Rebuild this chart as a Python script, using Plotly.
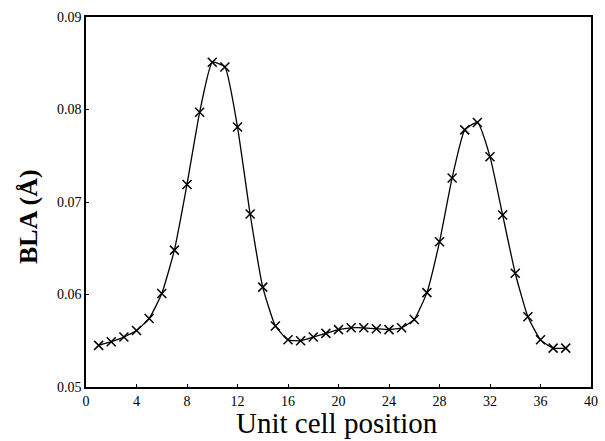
import plotly.graph_objects as go

positions = list(range(1, 39))
bla = [0.0545, 0.0549, 0.0554, 0.0561, 0.0574, 0.0601, 0.0648, 0.0719, 0.0797, 0.0851,
       0.0846, 0.0781, 0.0687, 0.0608, 0.0566, 0.0551, 0.0550, 0.0554, 0.0558, 0.0562,
       0.0564, 0.0564, 0.0563, 0.0562, 0.0564, 0.0573, 0.0602, 0.0657, 0.0726, 0.0778,
       0.0786, 0.0749, 0.0686, 0.0623, 0.0576, 0.0551, 0.0542, 0.0542]
x_ticks = [0, 4, 8, 12, 16, 20, 24, 28, 32, 36, 40]
y_ticks = [0.05, 0.06, 0.07, 0.08, 0.09]

font_family = "Liberation Serif"

fig = go.Figure()
fig.add_trace(go.Scatter(
    x=positions, y=bla, mode="lines+markers",
    line=dict(color="black", width=1.3, shape="spline", smoothing=0.45),
    marker=dict(symbol="x-thin", size=9, line=dict(color="black", width=1.5)),
    showlegend=False,
))

fig.update_layout(
    width=605, height=441,
    margin=dict(l=86, r=7, t=17, b=54),
    plot_bgcolor="white", paper_bgcolor="white",
    font=dict(family=font_family, color="black", size=14),
)
fig.update_xaxes(
    range=[0, 40], tickvals=x_ticks, ticktext=[str(v) for v in x_ticks],
    showgrid=False, zeroline=False, showline=True, linecolor="black", linewidth=1.5,
    mirror=True, ticks="inside", ticklen=3, tickcolor="black",
    tickfont=dict(family=font_family, size=14, color="black"),
)
fig.update_yaxes(
    range=[0.05, 0.09], tickvals=y_ticks, ticktext=["%.2f" % v for v in y_ticks],
    showgrid=False, zeroline=False, showline=True, linecolor="black", linewidth=1.5,
    mirror=True, ticks="inside", ticklen=3, tickcolor="black",
    tickfont=dict(family=font_family, size=14, color="black"),
)
fig.add_annotation(
    text="Unit cell position", xref="paper", yref="paper", x=0.498, y=-0.097,
    xanchor="center", yanchor="middle", showarrow=False,
    font=dict(family=font_family, size=29, color="black"),
)
fig.add_annotation(
    text="<b>BLA (Å)</b>", xref="paper", yref="paper", x=-0.115, y=0.462,
    xanchor="center", yanchor="middle", textangle=-90, showarrow=False,
    font=dict(family=font_family, size=26, color="black"),
)

fig.write_html("out.html")
